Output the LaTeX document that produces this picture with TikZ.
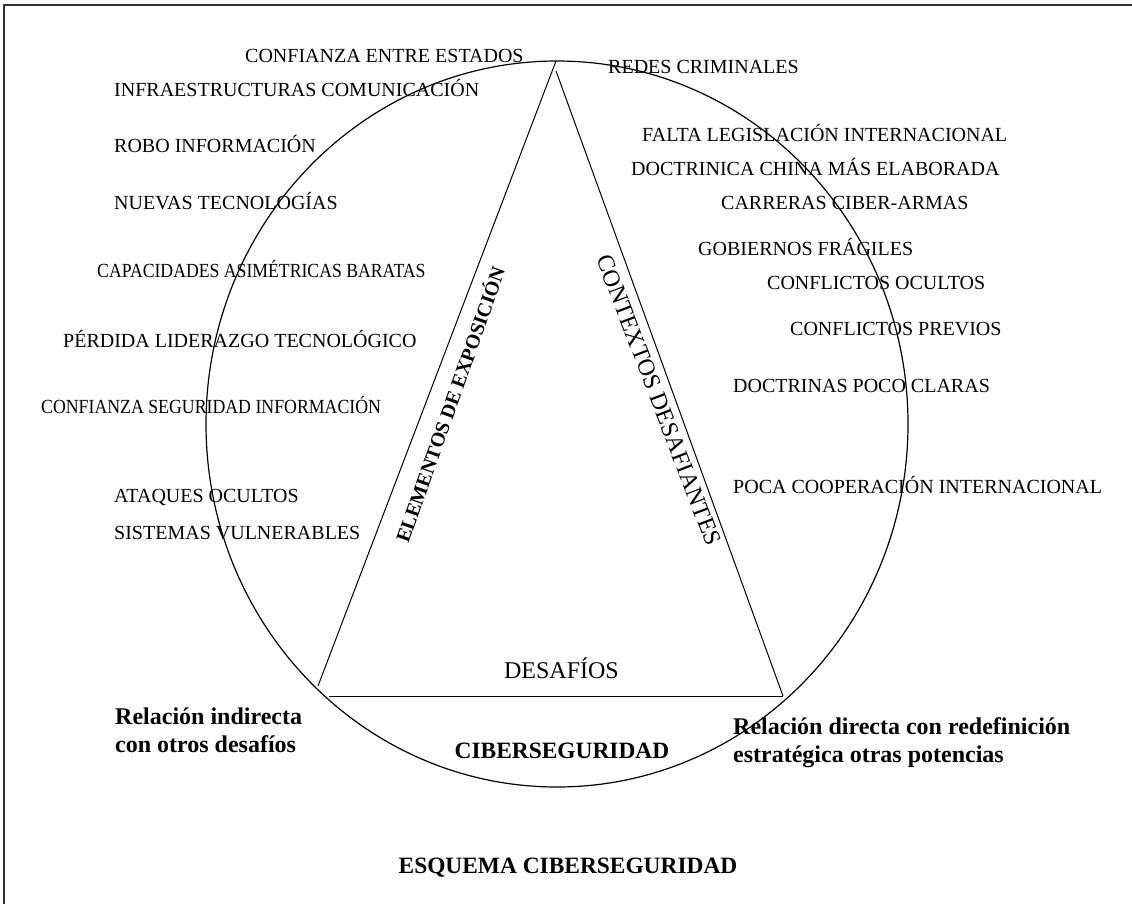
\documentclass[tikz,border=0pt]{standalone}
\usepackage{fontspec}
\usepackage{graphicx}
\setmainfont{Liberation Serif}
\begin{document}
\begin{tikzpicture}[x=1pt,y=-1pt,
  item/.style={anchor=base west,inner sep=0pt,font=\fontsize{20}{24}\selectfont},
  boldlab/.style={anchor=base west,inner sep=0pt,align=left,font=\fontsize{24}{28}\selectfont\bfseries},
  sidelab/.style={inner sep=0pt},
  shape line/.style={line width=1pt,black}]
\useasboundingbox (0,0) rectangle (1132,904);
% frame (top and left edges)
\draw[line width=1.3pt,black!80] (4,904) -- (4,5) -- (1132,5);
% ellipse
\draw[line width=1.2pt] (557,424) ellipse [x radius=351pt, y radius=363pt];
% triangle
\coordinate (apex) at (556,61);
\coordinate (apexR) at (556,71);
\coordinate (bl) at (318,686);
\coordinate (blb) at (329,696);
\coordinate (br) at (783,696);
\draw[shape line] (apex) -- (bl);
\draw[shape line] (apexR) -- (br);
\draw[shape line] (blb) -- (br);
% left items
\node[item] (l1) at (245,63) {CONFIANZA ENTRE ESTADOS};
\node[item] (l2) at (114,97) {INFRAESTRUCTURAS COMUNICACIÓN};
\node[item] (l3) at (114,153) {ROBO INFORMACIÓN};
\node[item] (l4) at (114,210) {NUEVAS TECNOLOGÍAS};
\node[item] (l5) at (97,277) {\scalebox{0.885}[1]{CAPACIDADES ASIMÉTRICAS BARATAS}};
\node[item] (l6) at (63,347) {PÉRDIDA LIDERAZGO TECNOLÓGICO};
\node[item] (l7) at (41,413) {\scalebox{0.889}[1]{CONFIANZA SEGURIDAD INFORMACIÓN}};
\node[item] (l8) at (114,502) {ATAQUES OCULTOS};
\node[item] (l9) at (114,539) {SISTEMAS VULNERABLES};
% right items
\node[item] (r1) at (608,74) {REDES CRIMINALES};
\node[item] (r2) at (642,142) {FALTA LEGISLACIÓN INTERNACIONAL};
\node[item] (r3) at (631,176) {DOCTRINICA CHINA MÁS ELABORADA};
\node[item] (r4) at (721,210) {CARRERAS CIBER-ARMAS};
\node[item] (r5) at (698,255) {GOBIERNOS FRÁGILES};
\node[item] (r6) at (767,289) {CONFLICTOS OCULTOS};
\node[item] (r7) at (790,335) {CONFLICTOS PREVIOS};
\node[item] (r8) at (733,392) {DOCTRINAS POCO CLARAS};
\node[item] (r9) at (733,493) {POCA COOPERACIÓN INTERNACIONAL};
% side labels
\node[sidelab,rotate=70.5,font=\fontsize{20}{24}\selectfont\bfseries] (elem) at (449,404) {ELEMENTOS DE EXPOSICIÓN};
\node[sidelab,rotate=-69,font=\fontsize{24}{28}\selectfont] (ctx) at (659,400) {CONTEXTOS DESAFIANTES};
% bottom labels
\node[anchor=base,inner sep=0pt,font=\fontsize{24}{28}\selectfont] (des) at (561.5,678) {DESAFÍOS};
\node[anchor=base,inner sep=0pt,font=\fontsize{23.4}{28}\selectfont\bfseries] (ciber) at (562,758) {CIBERSEGURIDAD};
\node[boldlab] (ind) at (115,752) {Relación indirecta\\con otros desafíos};
\node[boldlab] (dir) at (733,762) {Relación directa con redefinición\\estratégica otras potencias};
\node[anchor=base,inner sep=0pt,font=\fontsize{23.4}{28}\selectfont\bfseries] (title) at (568,873) {ESQUEMA CIBERSEGURIDAD};
\end{tikzpicture}
\end{document}
